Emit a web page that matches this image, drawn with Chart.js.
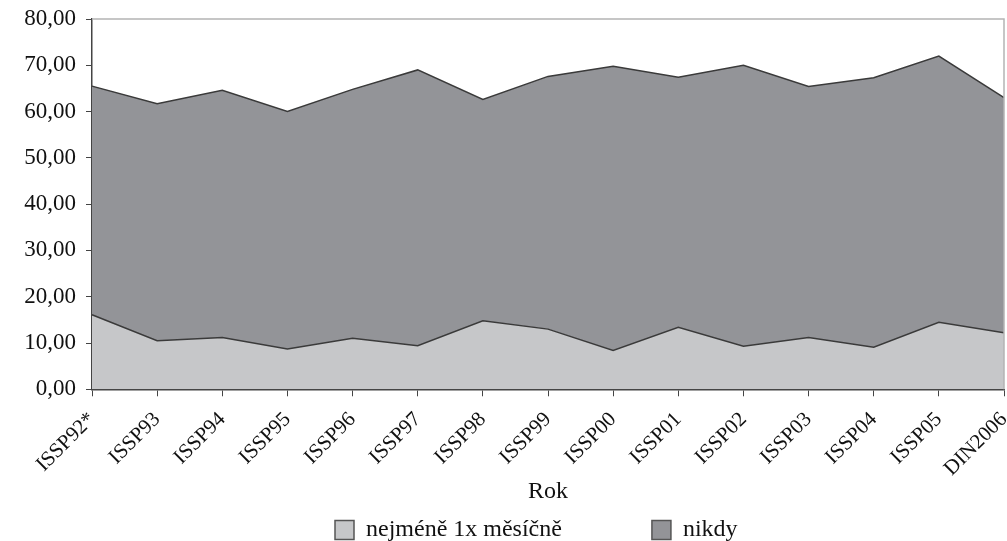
<!DOCTYPE html>
<html>
<head>
<meta charset="utf-8">
<script src="https://cdn.jsdelivr.net/npm/chart.js@4"></script>
<style>
  html, body { margin: 0; padding: 0; background: #fff; }
  #wrap { width: 1007px; height: 541px; }
</style>
</head>
<body>
<div id="wrap"><canvas id="myChart"></canvas></div>
<script>
let roky = ["ISSP92*", "ISSP93", "ISSP94", "ISSP95", "ISSP96", "ISSP97", "ISSP98", "ISSP99",
    "ISSP00", "ISSP01", "ISSP02", "ISSP03", "ISSP04", "ISSP05", "DIN2006"];

// spodni vrstva
let mesicne = [16.1, 10.5, 11.2, 8.7, 11.0, 9.4, 14.8, 13.0, 8.4, 13.4, 9.3, 11.2, 9.1, 14.5, 12.2];

// horni vrstva (navrstvena na spodni)
let nikdy = [49.4, 51.2, 53.4, 51.3, 53.8, 59.6, 47.8, 54.6, 61.4, 54.0, 60.7, 54.2, 58.2, 57.5, 50.8];

let yTicks = [0, 10, 20, 30, 40, 50, 60, 70, 80];

let serif = "'Liberation Serif', 'DejaVu Serif', serif";

// svetle seda linka nahore a vpravo kolem plochy grafu
let frame = {
    id: 'frame',
    afterDatasetsDraw(chart) {
        let a = chart.chartArea;
        let ctx = chart.ctx;
        ctx.save();
        ctx.strokeStyle = '#b4b4b4';
        ctx.lineWidth = 1.5;
        ctx.beginPath();
        ctx.moveTo(a.left, a.top);
        ctx.lineTo(a.right, a.top);
        ctx.lineTo(a.right, a.bottom);
        ctx.stroke();
        ctx.restore();
    }
};

// legenda: vetsi mezera mezi polozkami, aniz by rostla jeji vyska
let legendSpread = {
    id: 'legendSpread',
    beforeDraw(chart) {
        let lg = chart.legend;
        let lab = lg.options.labels;
        this.saved = { lab: lab, pad: lab.padding, left: lg.left, top: lg.top };
        let gap = 90;
        lab.padding = gap;
        lg.left = 335 - gap;
        lg.top = 530 - 12 - gap;
    },
    afterDraw(chart) {
        let lg = chart.legend;
        let s = this.saved;
        s.lab.padding = s.pad;
        lg.left = s.left;
        lg.top = s.top;
    }
};

let popCanvas = document.getElementById("myChart");

let areaChart = new Chart(popCanvas, {
    type: 'line',
    data: {
        labels: roky,
        datasets: [{
            label: 'nejméně 1x měsíčně',
            data: mesicne,
            fill: 'origin',
            backgroundColor: '#c6c7c9',
            borderColor: '#3a3a3a',
            borderWidth: 1.5,
            pointRadius: 0,
            tension: 0
        }, {
            label: 'nikdy',
            data: nikdy,
            fill: '-1',
            backgroundColor: '#939498',
            borderColor: '#3a3a3a',
            borderWidth: 1.5,
            pointRadius: 0,
            tension: 0
        }]
    },
    options: {
        responsive: true,
        maintainAspectRatio: false,
        animation: false,
        layout: { padding: { top: 19, right: 3, left: 0, bottom: -11 } },
        scales: {
            x: {
                offset: false,
                afterFit(axis) {
                    axis.paddingRight = 0;
                },
                grid: { drawOnChartArea: false, color: '#444', tickLength: 7 },
                border: { color: '#444', width: 1.5 },
                ticks: {
                    color: '#111',
                    font: { family: serif, size: 21 },
                    minRotation: 45,
                    maxRotation: 45,
                    padding: 11
                },
                title: {
                    display: true,
                    text: 'Rok',
                    color: '#111',
                    font: { family: serif, size: 24 },
                    padding: { top: -15, bottom: 12 }
                }
            },
            y: {
                stacked: true,
                min: 0,
                max: 80,
                afterBuildTicks(axis) {
                    axis.ticks = yTicks.map(v => ({ value: v }));
                },
                afterFit(axis) {
                    axis.width = 92;
                    axis.paddingTop = 0;
                    axis.paddingBottom = 0;
                },
                grid: { drawOnChartArea: false, color: '#444', tickLength: 6 },
                border: { color: '#444', width: 1.5 },
                ticks: {
                    color: '#111',
                    font: { family: serif, size: 23 },
                    padding: 10,
                    callback: v => v.toFixed(2).replace('.', ',')
                }
            }
        },
        plugins: {
            legend: {
                position: 'bottom',
                align: 'start',
                labels: {
                    color: '#111',
                    font: { family: serif, size: 24 },
                    boxWidth: 19,
                    boxHeight: 19,
                    padding: 0,
                    generateLabels(chart) {
                        // ramecky ctverecku v legende
                        return chart.data.datasets.map((ds, i) => ({
                            text: ds.label,
                            fillStyle: ds.backgroundColor,
                            strokeStyle: '#555',
                            lineWidth: 1.5,
                            fontColor: '#111',
                            hidden: false,
                            datasetIndex: i
                        }));
                    }
                }
            },
            tooltip: { enabled: false }
        }
    },
    plugins: [frame, legendSpread]
});
</script>
</body>
</html>
